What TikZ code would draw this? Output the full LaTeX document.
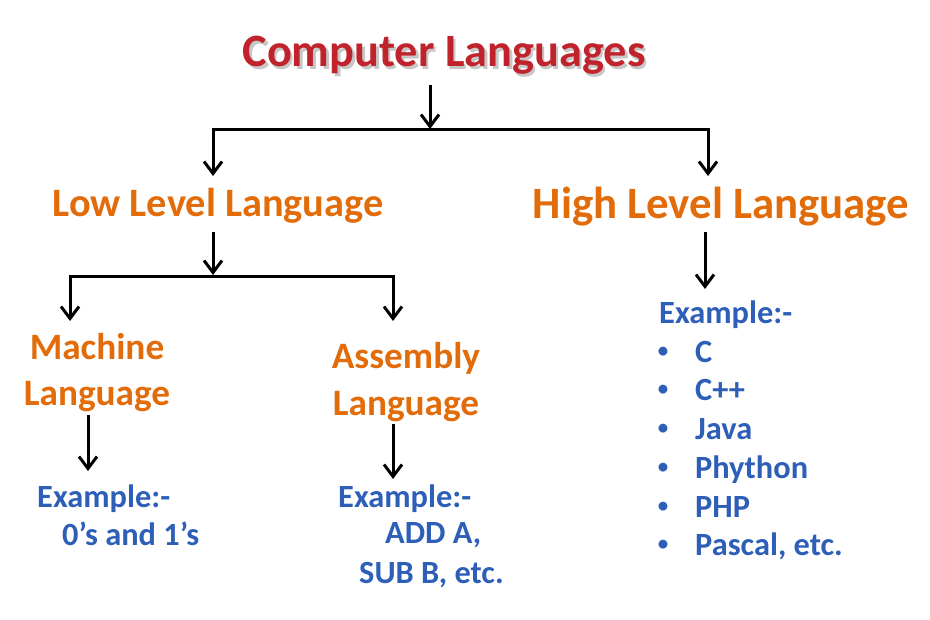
\documentclass[tikz,border=0pt]{standalone}
\usepackage{fontspec}
\setmainfont{Carlito}
\usetikzlibrary{arrows.meta}
\definecolor{tred}{HTML}{C0232B}
\definecolor{torange}{HTML}{E36C0A}
\definecolor{tblue}{HTML}{2E5FB8}
\begin{document}
\begin{tikzpicture}[x=1bp,y=-1bp,
  tip/.tip={Straight Barb[length=12bp,width=18bp]},
  titletext/.style={font=\fontsize{46.5}{54}\selectfont\bfseries, text=tred, anchor=base, inner sep=0},
  lvltext/.style={font=\fontsize{40.5}{46}\selectfont\bfseries, text=torange, anchor=base, inner sep=0},
  subtext/.style={font=\fontsize{37.4}{44}\selectfont\bfseries, text=torange, anchor=base, inner sep=0},
  extext/.style={font=\fontsize{32.5}{38}\selectfont\bfseries, text=tblue, anchor=base west, inner sep=0},
  bul/.style={font=\fontsize{21}{24}\selectfont\bfseries, text=tblue, anchor=base, inner sep=0},
  conn/.style={line width=3bp, -tip, line join=miter},
  twoway/.style={line width=3bp, tip-tip, line join=miter}]
\useasboundingbox[fill=white] (0,0) rectangle (930,620);

% title with shadow
\node[titletext, text=black!22] at (446.5,69.5) {Computer Languages};
\node[titletext] (title) at (444,67) {Computer Languages};

\node[lvltext] (low) at (218,217) {Low Level Language};
\node[lvltext, font=\fontsize{45}{52}\selectfont\bfseries] (high) at (721,219) {High Level Language};

\node[subtext] (mach1) at (97,359) {Machine};
\node[subtext] (mach2) at (97,405) {Language};
\node[subtext] (asm1) at (406,368) {Assembly};
\node[subtext] (asm2) at (406,415) {Language};

\node[extext] (mex) at (37,507) {Example:-};
\node[extext] (mex2) at (62,545) {0’s and 1’s};

\node[extext] (aex) at (338,507) {Example:-};
\node[extext] (aex2) at (385,543) {ADD A,};
\node[extext] (aex3) at (359,583) {SUB B, etc.};

\node[extext] (hex) at (659,323) {Example:-};
\foreach \y/\t [count=\i] in {362/C, 400/C++, 439/Java, 478/Phython, 517/PHP, 555/{Pascal, etc.}} {
  \node[bul] (b\i) at (663,\y-5) {•};
  \node[extext] (h\i) at (695,\y) {\t};
}

% connectors
\coordinate (t-o) at (430,85);
\coordinate (j1) at (430,129);
\coordinate (jl) at (213,130);
\coordinate (jr) at (708,130);
\coordinate (low-i) at (213,176);
\coordinate (high-i) at (708,176);
\draw[conn] (t-o) -- (j1);
\draw[twoway] (low-i) -- (jl) -- (jr) -- (high-i);

\coordinate (low-o) at (213,232);
\coordinate (j2) at (213,275);
\coordinate (j2l) at (70,276);
\coordinate (j2r) at (393,276);
\coordinate (mach-i) at (70,321);
\coordinate (asm-i) at (393,321);
\draw[conn] (low-o) -- (j2);
\draw[twoway] (mach-i) -- (j2l) -- (j2r) -- (asm-i);

\coordinate (mach-o) at (88,415);
\coordinate (mex-i) at (88,471);
\draw[conn] (mach-o) -- (mex-i);
\coordinate (asm-o) at (393,424);
\coordinate (aex-i) at (393,479);
\draw[conn] (asm-o) -- (aex-i);
\coordinate (high-o) at (705,232);
\coordinate (hex-i) at (705,289);
\draw[conn] (high-o) -- (hex-i);
\end{tikzpicture}
\end{document}
